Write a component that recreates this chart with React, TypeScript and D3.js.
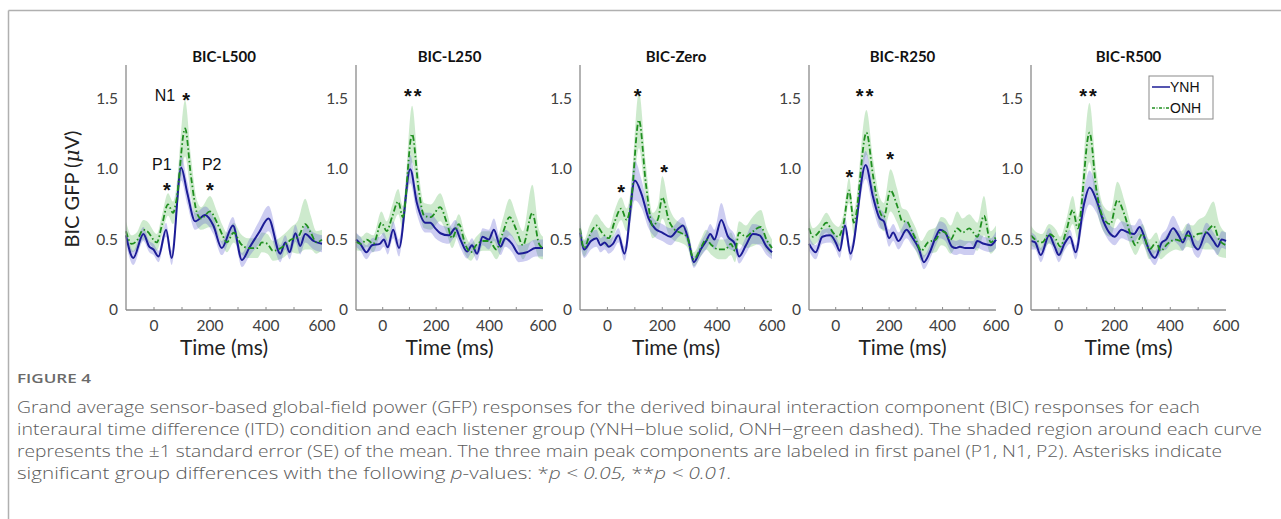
import React from "react";
import * as d3 from "d3";

// ---------------- data ----------------
const PANEL_TITLES = ["BIC-L500", "BIC-L250", "BIC-Zero", "BIC-R250", "BIC-R500"];
const X_TICKS = [0, 200, 400, 600];
const X_MINOR = [0, 100, 200, 300, 400, 500];
const Y_TICKS = [0, 0.5, 1.0, 1.5];
const Y_TICK_LABELS = ["0", "0.5", "1.0", "1.5"];
const X_DOMAIN = [-100, 600];
const Y_DOMAIN = [0, 1.74];
const GROUPS = ["YNH", "ONH"];

// [time (ms), mean GFP (µV), SE]
const L500_YNH = [[-100,0.53,0.06],[-74,0.37,0.05],[-38,0.54,0.05],[-17,0.45,0.04],[-2,0.43,0.04],[16,0.38,0.04],[43,0.57,0.05],[63,0.37,0.05],[97,1.01,0.09],[119,0.83,0.08],[147,0.63,0.06],[183,0.675,0.06],[212,0.6,0.06],[242,0.44,0.05],[282,0.6,0.06],[314,0.355,0.05],[340,0.44,0.06],[375,0.55,0.08],[409,0.65,0.09],[451,0.4,0.06],[469,0.48,0.05],[484,0.41,0.05],[505,0.545,0.06],[522,0.455,0.06],[540,0.54,0.06],[570,0.49,0.06],[600,0.47,0.06]];
const L500_ONH = [[-100,0.56,0.07],[-80,0.47,0.06],[-62,0.49,0.06],[-38,0.57,0.07],[-25,0.56,0.07],[10,0.48,0.06],[28,0.6,0.07],[50,0.75,0.08],[68,0.69,0.08],[80,0.78,0.09],[111,1.29,0.2],[132,0.95,0.14],[155,0.68,0.09],[168,0.65,0.08],[200,0.7,0.11],[225,0.62,0.08],[245,0.53,0.07],[260,0.48,0.07],[285,0.55,0.07],[310,0.47,0.07],[335,0.44,0.07],[370,0.44,0.07],[385,0.48,0.07],[405,0.47,0.07],[425,0.42,0.07],[460,0.45,0.08],[490,0.5,0.09],[515,0.52,0.12],[540,0.61,0.18],[560,0.55,0.12],[580,0.48,0.08],[600,0.5,0.07]];
const L250_YNH = [[-100,0.5,0.05],[-84,0.47,0.05],[-61,0.41,0.05],[-40,0.46,0.05],[-11,0.47,0.05],[4,0.5,0.05],[19,0.445,0.05],[39,0.57,0.06],[61,0.44,0.06],[103,1.0,0.1],[128,0.76,0.08],[160,0.62,0.07],[178,0.62,0.07],[197,0.58,0.07],[216,0.545,0.06],[247,0.53,0.06],[272,0.58,0.06],[291,0.5,0.06],[316,0.415,0.05],[334,0.46,0.05],[353,0.4,0.05],[374,0.52,0.06],[397,0.5,0.07],[416,0.57,0.08],[441,0.45,0.06],[459,0.51,0.06],[484,0.47,0.06],[509,0.4,0.06],[540,0.41,0.06],[572,0.44,0.06],[600,0.44,0.06]];
const L250_ONH = [[-100,0.485,0.06],[-80,0.47,0.05],[-60,0.5,0.05],[-35,0.47,0.06],[-5,0.62,0.08],[15,0.56,0.07],[35,0.66,0.08],[58,0.77,0.09],[75,0.66,0.08],[110,1.25,0.2],[135,0.85,0.12],[155,0.67,0.09],[180,0.66,0.09],[215,0.73,0.1],[240,0.62,0.08],[260,0.51,0.07],[285,0.61,0.07],[310,0.46,0.07],[330,0.41,0.06],[350,0.46,0.06],[375,0.49,0.07],[400,0.49,0.07],[425,0.43,0.07],[450,0.55,0.1],[475,0.66,0.13],[500,0.57,0.1],[525,0.46,0.1],[560,0.69,0.2],[585,0.47,0.1],[600,0.44,0.08]];
const ZERO_YNH = [[-100,0.55,0.08],[-85,0.43,0.06],[-60,0.49,0.06],[-40,0.51,0.06],[-25,0.46,0.05],[-10,0.48,0.05],[5,0.45,0.05],[20,0.47,0.05],[40,0.53,0.05],[62,0.4,0.05],[100,0.92,0.14],[125,0.82,0.1],[150,0.65,0.07],[175,0.575,0.06],[200,0.55,0.06],[230,0.52,0.06],[260,0.58,0.06],[275,0.6,0.06],[295,0.5,0.05],[315,0.34,0.04],[340,0.43,0.05],[360,0.49,0.06],[375,0.54,0.07],[390,0.5,0.07],[415,0.64,0.12],[440,0.52,0.08],[465,0.47,0.06],[480,0.38,0.05],[505,0.46,0.06],[530,0.54,0.07],[555,0.53,0.07],[580,0.45,0.06],[600,0.41,0.05]];
const ZERO_ONH = [[-100,0.58,0.07],[-85,0.44,0.06],[-65,0.53,0.07],[-40,0.6,0.08],[-20,0.55,0.08],[5,0.51,0.07],[25,0.62,0.08],[50,0.72,0.08],[70,0.64,0.08],[85,0.75,0.1],[115,1.35,0.2],[140,0.9,0.14],[165,0.6,0.09],[185,0.65,0.1],[200,0.8,0.15],[225,0.63,0.1],[245,0.57,0.08],[265,0.55,0.07],[290,0.52,0.07],[315,0.36,0.05],[340,0.44,0.06],[360,0.5,0.07],[380,0.46,0.07],[405,0.43,0.07],[430,0.43,0.07],[450,0.47,0.08],[465,0.42,0.08],[480,0.55,0.08],[505,0.52,0.08],[525,0.55,0.1],[560,0.59,0.12],[580,0.5,0.08],[600,0.44,0.06]];
const R250_YNH = [[-100,0.47,0.05],[-75,0.41,0.05],[-50,0.52,0.05],[-20,0.53,0.05],[0,0.48,0.05],[15,0.42,0.05],[35,0.6,0.06],[55,0.4,0.05],[112,1.03,0.1],[140,0.8,0.08],[165,0.65,0.07],[180,0.63,0.06],[200,0.51,0.06],[215,0.55,0.06],[235,0.49,0.06],[265,0.57,0.06],[285,0.52,0.06],[310,0.44,0.05],[330,0.34,0.05],[350,0.4,0.05],[375,0.52,0.06],[390,0.57,0.06],[410,0.55,0.06],[435,0.45,0.05],[450,0.44,0.05],[465,0.45,0.05],[485,0.44,0.05],[515,0.44,0.05],[530,0.49,0.05],[555,0.47,0.05],[580,0.46,0.05],[600,0.5,0.06]];
const R250_ONH = [[-100,0.58,0.08],[-85,0.52,0.06],[-60,0.56,0.06],[-35,0.62,0.07],[-10,0.55,0.07],[10,0.52,0.07],[30,0.62,0.07],[50,0.85,0.09],[68,0.62,0.08],[115,1.26,0.16],[140,0.95,0.12],[165,0.7,0.1],[180,0.66,0.1],[205,0.85,0.15],[230,0.74,0.12],[250,0.63,0.09],[265,0.63,0.08],[285,0.56,0.08],[300,0.5,0.08],[320,0.42,0.07],[345,0.48,0.08],[375,0.5,0.09],[395,0.56,0.1],[410,0.55,0.1],[430,0.5,0.1],[455,0.58,0.12],[475,0.55,0.1],[500,0.58,0.1],[515,0.55,0.1],[530,0.52,0.1],[555,0.67,0.14],[580,0.48,0.08],[600,0.52,0.08]];
const R500_YNH = [[-100,0.49,0.06],[-85,0.48,0.05],[-65,0.39,0.05],[-35,0.53,0.05],[-15,0.45,0.05],[0,0.39,0.05],[20,0.47,0.05],[40,0.52,0.05],[60,0.41,0.05],[90,0.75,0.1],[110,0.87,0.12],[135,0.78,0.09],[160,0.63,0.07],[185,0.54,0.06],[200,0.52,0.06],[225,0.57,0.06],[250,0.55,0.06],[270,0.54,0.06],[290,0.59,0.06],[310,0.5,0.06],[325,0.42,0.05],[345,0.37,0.05],[370,0.48,0.06],[385,0.5,0.07],[410,0.58,0.09],[430,0.53,0.07],[445,0.48,0.06],[465,0.56,0.06],[485,0.46,0.06],[500,0.43,0.06],[530,0.55,0.07],[555,0.49,0.06],[570,0.45,0.06],[585,0.5,0.06],[600,0.49,0.06]];
const R500_ONH = [[-100,0.53,0.07],[-85,0.5,0.06],[-60,0.48,0.06],[-35,0.54,0.07],[-10,0.5,0.07],[5,0.45,0.07],[25,0.55,0.08],[50,0.71,0.1],[68,0.58,0.08],[110,1.26,0.21],[135,0.85,0.13],[160,0.65,0.09],[185,0.61,0.09],[210,0.78,0.13],[235,0.68,0.1],[260,0.52,0.08],[275,0.46,0.07],[300,0.54,0.07],[325,0.43,0.07],[350,0.48,0.07],[365,0.42,0.06],[390,0.47,0.07],[420,0.5,0.07],[440,0.49,0.07],[460,0.53,0.08],[480,0.52,0.08],[500,0.54,0.1],[525,0.55,0.12],[555,0.6,0.17],[575,0.5,0.12],[600,0.46,0.09]];

// significance markers: [time, value, text]
const L500_STARS = [[115, 1.52, "*"], [46, 0.88, "*"], [200, 0.88, "*"]];
const L250_STARS = [[116, 1.545, "**"]];
const ZERO_STARS = [[110, 1.547, "*"], [50, 0.865, "*"], [207, 1.007, "*"]];
const R250_STARS = [[112, 1.547, "**"], [51, 0.97, "*"], [204, 1.1, "*"]];
const R500_STARS = [[108, 1.547, "**"]];
const PEAK_LABELS = [["N1", 39, 1.53], ["P1", 28, 1.04], ["P2", 206, 1.04]];

const CAPTION_TITLE = "FIGURE 4";
const CAPTION_LINES = [
  "Grand average sensor-based global-field power (GFP) responses for the derived binaural interaction component (BIC) responses for each",
  "interaural time difference (ITD) condition and each listener group (YNH\u2212blue solid, ONH\u2212green dashed). The shaded region around each curve",
  "represents the \u00B11 standard error (SE) of the mean. The three main peak components are labeled in first panel (P1, N1, P2). Asterisks indicate",
];

const SERIES = [
  [L500_YNH, L500_ONH],
  [L250_YNH, L250_ONH],
  [ZERO_YNH, ZERO_ONH],
  [R250_YNH, R250_ONH],
  [R500_YNH, R500_ONH],
];
const STARS = [L500_STARS, L250_STARS, ZERO_STARS, R250_STARS, R500_STARS];

// ---------------- layout / style ----------------
const W = 1281;
const H = 519;
const PANEL_LEFT = [126, 356, 580, 809, 1031];
const PANEL_RIGHT = [322, 543, 772, 996, 1226];
const PLOT_TOP = 65;
const PLOT_BOTTOM = 310;
const AXIS_COLOR = "#8a8a8a";
const BLUE = "#1c1c96";
const BLUE_FILL = "rgba(90,90,210,0.3)";
const GREEN = "#1f8f1f";
const GREEN_FILL = "rgba(60,175,60,0.26)";
const DASH = "6 2.5 1.5 2.5";
const FONT = "Lato, 'Open Sans', sans-serif";
const ARIAL = "'Liberation Sans', Arial, sans-serif";
const CAP_FONT = "'Open Sans', Lato, sans-serif";
const CAP_X = 17;
const CAP_Y0 = 413;
const CAP_DY = 22;
const CAP_WIDTHS = [1183, 1245, 1205, 715];

function Panel({ i }: { i: number }) {
  const x = d3.scaleLinear().domain(X_DOMAIN).range([PANEL_LEFT[i], PANEL_RIGHT[i]]);
  const y = d3.scaleLinear().domain(Y_DOMAIN).range([PLOT_BOTTOM, PLOT_TOP]);
  const line = d3
    .line<number[]>()
    .x((d) => x(d[0]))
    .y((d) => y(d[1]))
    .curve(d3.curveMonotoneX);
  const area = d3
    .area<number[]>()
    .x((d) => x(d[0]))
    .y0((d) => y(d[1] - d[2]))
    .y1((d) => y(d[1] + d[2]))
    .curve(d3.curveMonotoneX);
  const [ynh, onh] = SERIES[i];
  const cx = (PANEL_LEFT[i] + PANEL_RIGHT[i]) / 2;
  return (
    <g>
      <text x={cx} y={62} textAnchor="middle" fontFamily={FONT} fontWeight="bold" fontSize={15} fill="#111">
        {PANEL_TITLES[i]}
      </text>
      <path d={area(onh as number[][]) || ""} fill={GREEN_FILL} />
      <path d={area(ynh as number[][]) || ""} fill={BLUE_FILL} />
      <path d={line(ynh as number[][]) || ""} fill="none" stroke={BLUE} strokeWidth={2} />
      <path d={line(onh as number[][]) || ""} fill="none" stroke={GREEN} strokeWidth={1.8} strokeDasharray={DASH} />
      {/* axes */}
      <line x1={x(X_DOMAIN[0])} x2={x(X_DOMAIN[1])} y1={PLOT_BOTTOM} y2={PLOT_BOTTOM} stroke={AXIS_COLOR} strokeWidth={1.3} />
      <line x1={x(X_DOMAIN[0])} x2={x(X_DOMAIN[0])} y1={PLOT_TOP} y2={PLOT_BOTTOM} stroke={AXIS_COLOR} strokeWidth={1.3} />
      {X_MINOR.map((t) => (
        <line key={"m" + t} x1={x(t)} x2={x(t)} y1={PLOT_BOTTOM} y2={PLOT_BOTTOM - 3} stroke={AXIS_COLOR} strokeWidth={1} />
      ))}
      {X_TICKS.map((t) => (
        <text key={"x" + t} x={x(t)} y={331} textAnchor="middle" fontFamily={FONT} fontSize={15.5} fill="#404040">
          {t}
        </text>
      ))}
      {Y_TICKS.map((v, k) => (
        <text key={"y" + v} x={x(X_DOMAIN[0]) - 8} y={y(v) + 5} textAnchor="end" fontFamily={FONT} fontSize={15.5} fill="#404040">
          {Y_TICK_LABELS[k]}
        </text>
      ))}
      <text x={cx} y={355} textAnchor="middle" fontFamily={FONT} fontSize={21} fill="#222">
        Time (ms)
      </text>
      {STARS[i].map((s, k) => (
        <text
          key={"s" + k}
          x={x(s[0] as number)}
          y={y(s[1] as number) + 11}
          textAnchor="middle"
          fontFamily={ARIAL}
          fontWeight="bold"
          fontSize={20}
          letterSpacing={s[2] === "**" ? 2 : 0}
          fill="#111"
        >
          {s[2]}
        </text>
      ))}
      {i === 0 &&
        PEAK_LABELS.map((p, k) => (
          <text key={"p" + k} x={x(p[1] as number)} y={y(p[2] as number) + 6} textAnchor="middle" fontFamily={ARIAL} fontSize={16} fill="#111">
            {p[0]}
          </text>
        ))}
    </g>
  );
}

function Legend() {
  const x0 = 1149;
  const y0 = 76;
  return (
    <g>
      <rect x={x0} y={y0} width={64} height={43} fill="#fff" stroke="#8a8a8a" strokeWidth={1} />
      <line x1={x0 + 3} x2={x0 + 21} y1={y0 + 11} y2={y0 + 11} stroke={BLUE} strokeWidth={1.5} />
      <text x={x0 + 21} y={y0 + 16} fontFamily={ARIAL} fontSize={14} fill="#111">
        {GROUPS[0]}
      </text>
      <line x1={x0 + 3} x2={x0 + 21} y1={y0 + 32} y2={y0 + 32} stroke={GREEN} strokeWidth={1.5} strokeDasharray="3 1.5 1 1.5" />
      <text x={x0 + 21} y={y0 + 37} fontFamily={ARIAL} fontSize={14} fill="#111">
        {GROUPS[1]}
      </text>
    </g>
  );
}

export default function App() {
  return (
    <svg
      width={W}
      height={H}
      viewBox={`0 0 ${W} ${H}`}
      style={{ position: "absolute", left: 0, top: 0, display: "block", background: "#fff" }}
    >
      <rect x={0} y={0} width={W} height={H} fill="#fff" />
      {/* frame */}
      <line x1={8.5} x2={W} y1={10.5} y2={10.5} stroke="#b0b0b0" strokeWidth={1.5} />
      <line x1={8.5} x2={8.5} y1={10.5} y2={H} stroke="#b0b0b0" strokeWidth={1.5} />
      {/* y label */}
      <text transform="translate(79,189) rotate(-90)" textAnchor="middle" fontFamily={FONT} fontSize={20} fill="#222">
        BIC GFP (<tspan fontStyle="italic" fontFamily="'DejaVu Serif', serif">{"\u03BC"}</tspan>V)
      </text>
      {PANEL_TITLES.map((_, i) => (
        <Panel key={i} i={i} />
      ))}
      <Legend />
      {/* caption */}
      <text x={CAP_X} y={383} fontFamily={CAP_FONT} fontSize={12.5} fill="#6a6a6a" fontWeight={600} textLength={74} lengthAdjust="spacingAndGlyphs">
        {CAPTION_TITLE}
      </text>
      {CAPTION_LINES.map((l, k) => (
        <text
          key={k}
          x={CAP_X}
          y={CAP_Y0 + k * CAP_DY}
          fontFamily={CAP_FONT}
          fontWeight={300}
          fontSize={16.5}
          fill="#5a5a5a"
          textLength={CAP_WIDTHS[k]}
          lengthAdjust="spacingAndGlyphs"
        >
          {l}
        </text>
      ))}
      <text
        x={CAP_X}
        y={CAP_Y0 + 3 * CAP_DY}
        fontFamily={CAP_FONT}
        fontWeight={300}
        fontSize={16.5}
        fill="#5a5a5a"
        textLength={CAP_WIDTHS[3]}
        lengthAdjust="spacingAndGlyphs"
      >
        significant group differences with the following <tspan fontStyle="italic">p</tspan>-values: *
        <tspan fontStyle="italic">p &lt; 0.05,</tspan> **<tspan fontStyle="italic">p &lt; 0.01.</tspan>
      </text>
    </svg>
  );
}
